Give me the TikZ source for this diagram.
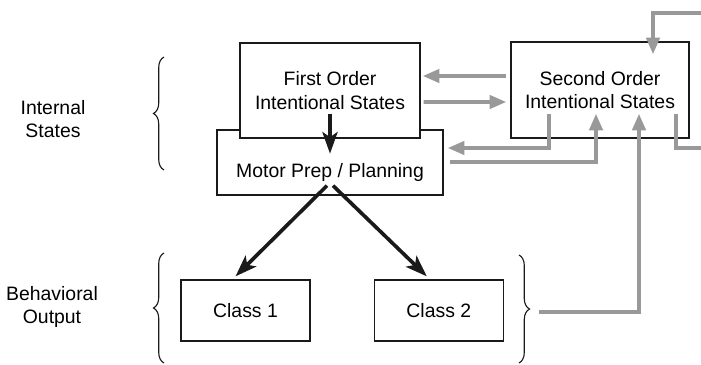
\documentclass[tikz,border=0pt]{standalone}
\usepackage{fontspec}
\setmainfont{Liberation Sans}
\usetikzlibrary{arrows.meta, positioning, calc, decorations.pathreplacing}
\definecolor{fbgray}{HTML}{999999}
\definecolor{inkblack}{HTML}{1A1A1A}
\tikzset{
  >=Latex,
  font=\fontsize{13.8}{16.5}\selectfont,
  stbox/.style={draw=inkblack, fill=white, line width=0.9pt, align=center, inner sep=0pt},
  outbox/.style={stbox, minimum width=3.225cm, minimum height=1.525cm},
  grayarr/.style={-{Triangle[length=4.2mm,width=3.3mm]}, line width=2.8pt, draw=fbgray},
  grayline/.style={line width=2.8pt, draw=fbgray},
  blkarr/.style={-{Stealth[length=5.4mm,width=3.8mm,inset=1.3mm]}, line width=2.6pt, draw=inkblack},
  curly/.style={decorate, decoration={brace, amplitude=#1}, line width=0.8pt, draw=inkblack},
  curly/.default=7.5pt,
  sidelab/.style={align=center}
}
\begin{document}
\begin{tikzpicture}[x=0.025cm, y=-0.025cm]
  \useasboundingbox (0,0) rectangle (701,365);
  % state boxes
  \node[stbox, minimum width=5.65cm, minimum height=1.625cm,
        text height=1.195cm, text depth=0.43cm] (motor) at (330,162.5) {Motor Prep / Planning};
  \node[stbox, minimum width=4.5cm, minimum height=2.375cm] (first) at (330,90.5) {First Order\\Intentional States};
  \node[stbox, minimum width=4.45cm, minimum height=2.4cm] (second) at (600,90) {Second Order\\Intentional States};
  \node[outbox] (class1) at (245.5,310.5) {Class 1};
  \node[outbox, right=1.575cm of class1] (class2) {Class 2};
  % side labels and braces
  \node[sidelab] (intlab) at (53,119) {Internal\\States};
  \node[sidelab] (behlab) at (52,307) {Behavioral\\Output};
  \draw[curly] (164,170) -- (164,57);
  \draw[curly] (164,363) -- (164,253);
  \draw[curly] (519,255) -- (519,363);
  \coordinate (outtip) at (539,312);
  \coordinate (rimout) at (705,148);
  \coordinate (rimin) at (705,13);
  % feedback (gray)
  \draw[grayarr] ($(second.west)+(-4,-14)$) -- ($(first.east)+(2,-14.5)$);
  \draw[grayarr] ($(first.east)+(3,11.5)$) -- ($(second.west)+(-4,12)$);
  \draw[grayarr] ($(second.south)+(-51,-25)$) |- ($(motor.east)+(4,-14.5)$);
  \draw[grayarr] ($(motor.east)+(6,-0.5)$) -| ($(second.south)+(-4,-25)$);
  \draw[grayarr] (outtip) -| ($(second.south)+(39,-25)$);
  \draw[grayline] ($(second.south)+(76,-25)$) |- (rimout);
  \draw[grayarr] (rimin) -| ($(second.north)+(53,13)$);
  % forward (black)
  \draw[blkarr] ($(first.south)+(0,-25)$) -- ($(motor.south)+(0,-42)$);
  \draw[blkarr] ($(motor.south)+(-3,-10)$) -- ($(class1.north)+(-10,-3)$);
  \draw[blkarr] ($(motor.south)+(3,-10)$) -- ($(class2.north)+(-12,-3)$);
\end{tikzpicture}
\end{document}
